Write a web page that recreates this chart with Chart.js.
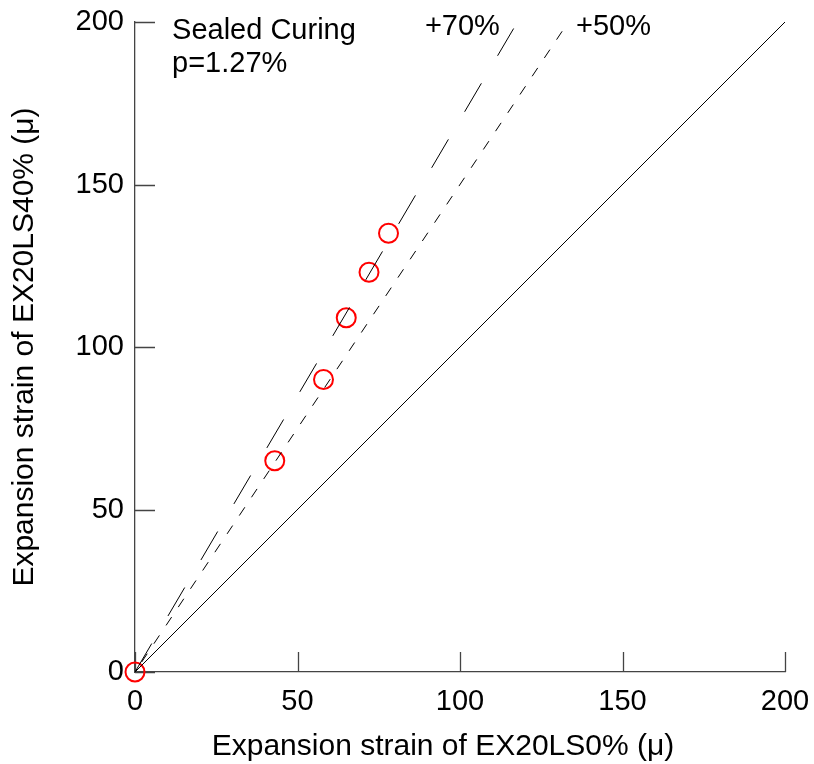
<!DOCTYPE html>
<html>
<head>
<meta charset="utf-8">
<script src="https://cdn.jsdelivr.net/npm/chart.js@4/dist/chart.umd.min.js"></script>
<style>
  html, body { margin: 0; padding: 0; background: #ffffff; }
  canvas { display: block; }
</style>
</head>
<body>
<canvas id="chart" width="814" height="764"></canvas>
<script>
// Measured expansion strains (μ): EX20LS0% (x) against EX20LS40% (y)
const strainLS0  = [0, 43, 58, 65, 72, 78];
const strainLS40 = [0, 65, 90, 109, 123, 135];

// Reference lines: equality, +50 % and +70 %
const equalX  = [0, 200];
const equalY  = [0, 200];
const plus50X = [0, 132];
const plus50Y = [0, 198];
const plus70X = [0, 116.5];
const plus70Y = [0, 198];

// Axis tick values
const xTicks = [0, 50, 100, 150, 200];
const yTicks = [0, 50, 100, 150, 200];

// Text
const xTitle = 'Expansion strain of EX20LS0% (\u03bc)';
const yTitle = 'Expansion strain of EX20LS40% (\u03bc)';
const noteLines = ['Sealed Curing', 'p=1.27%'];
const label70 = '+70%';
const label50 = '+50%';

const FONT = "'Liberation Sans', Arial, Helvetica, sans-serif";
const AXIS_COLOR = '#444444';

const toPoints = (xs, ys) => xs.map((v, i) => ({ x: v, y: ys[i] }));

// Keep label overflow from pushing the plot area inwards
function clearScalePadding(s) {
  s.paddingTop = 0;
  s.paddingBottom = 0;
  s.paddingLeft = 0;
  s.paddingRight = 0;
}

// Tick marks pointing into the plot area
const innerTicks = {
  id: 'innerTicks',
  beforeDatasetsDraw(chart) {
    const { ctx, chartArea: a, scales: { x, y } } = chart;
    ctx.save();
    ctx.strokeStyle = AXIS_COLOR;
    ctx.lineWidth = 1.3;
    ctx.beginPath();
    x.ticks.forEach(t => {
      const px = Math.round(x.getPixelForValue(t.value)) + 0.5;
      ctx.moveTo(px, a.bottom);
      ctx.lineTo(px, a.bottom - 20);
    });
    y.ticks.forEach(t => {
      const py = Math.round(y.getPixelForValue(t.value)) + 0.5;
      ctx.moveTo(a.left, py);
      ctx.lineTo(a.left + 20, py);
    });
    ctx.stroke();
    ctx.restore();
  }
};

// Annotation text and the horizontal axis title
const annotations = {
  id: 'annotations',
  afterDraw(chart) {
    const { ctx, chartArea: a, scales: { x, y } } = chart;
    ctx.save();
    ctx.fillStyle = '#000000';
    ctx.font = '29px ' + FONT;
    ctx.textAlign = 'left';
    ctx.textBaseline = 'alphabetic';
    ctx.fillText(noteLines[0], x.getPixelForValue(11.4), y.getPixelForValue(194.8));
    ctx.fillText(noteLines[1], x.getPixelForValue(11.4), y.getPixelForValue(184.5));
    ctx.fillText(label70, x.getPixelForValue(89.2), y.getPixelForValue(196));
    ctx.fillText(label50, x.getPixelForValue(135.7), y.getPixelForValue(196));

    ctx.font = '30px ' + FONT;
    ctx.textAlign = 'center';
    ctx.fillText(xTitle, (a.left + a.right) / 2 - 17, chart.height - 9);
    ctx.restore();
  }
};

new Chart(document.getElementById('chart'), {
  type: 'scatter',
  data: {
    datasets: [
      {
        label: 'equal',
        data: toPoints(equalX, equalY),
        showLine: true,
        borderColor: '#000000',
        borderWidth: 1,
        pointRadius: 0,
        fill: false
      },
      {
        label: '+50%',
        data: toPoints(plus50X, plus50Y),
        showLine: true,
        borderColor: '#000000',
        borderWidth: 1,
        borderDash: [10, 12],
        borderDashOffset: 10,
        pointRadius: 0,
        fill: false
      },
      {
        label: '+70%',
        data: toPoints(plus70X, plus70Y),
        showLine: true,
        borderColor: '#000000',
        borderWidth: 1,
        borderDash: [33, 32],
        pointRadius: 0,
        fill: false
      },
      {
        label: 'measured',
        data: toPoints(strainLS0, strainLS40),
        showLine: false,
        pointStyle: 'circle',
        pointRadius: 9.5,
        pointBorderWidth: 2,
        pointBorderColor: '#ff0000',
        pointBackgroundColor: 'rgba(0,0,0,0)',
        clip: false
      }
    ]
  },
  options: {
    responsive: false,
    animation: false,
    events: [],
    layout: { padding: { top: 22, right: 29, left: 0, bottom: 0 } },
    plugins: {
      legend: { display: false },
      tooltip: { enabled: false }
    },
    scales: {
      x: {
        type: 'linear',
        position: 'bottom',
        min: 0,
        max: 200,
        afterFit(s) { s.height = 92; clearScalePadding(s); },
        afterBuildTicks(s) { s.ticks = xTicks.map(v => ({ value: v })); },
        grid: { display: false, drawTicks: false, drawOnChartArea: false },
        border: { display: true, color: AXIS_COLOR, width: 1.3 },
        ticks: {
          color: '#000000',
          padding: 13,
          maxRotation: 0,
          autoSkip: false,
          font: { family: FONT, size: 29 }
        },
        title: { display: false }
      },
      y: {
        type: 'linear',
        position: 'left',
        min: 0,
        max: 200,
        afterFit(s) { s.width = 135; clearScalePadding(s); },
        afterBuildTicks(s) { s.ticks = yTicks.map(v => ({ value: v })); },
        grid: { display: false, drawTicks: false, drawOnChartArea: false },
        border: { display: true, color: AXIS_COLOR, width: 1.3 },
        ticks: {
          color: '#000000',
          padding: 11,
          autoSkip: false,
          font: { family: FONT, size: 29 }
        },
        title: {
          display: true,
          text: yTitle,
          color: '#000000',
          padding: { top: 7, bottom: 4 },
          font: { family: FONT, size: 30, weight: 'normal' }
        }
      }
    }
  },
  plugins: [innerTicks, annotations]
});
</script>
</body>
</html>
